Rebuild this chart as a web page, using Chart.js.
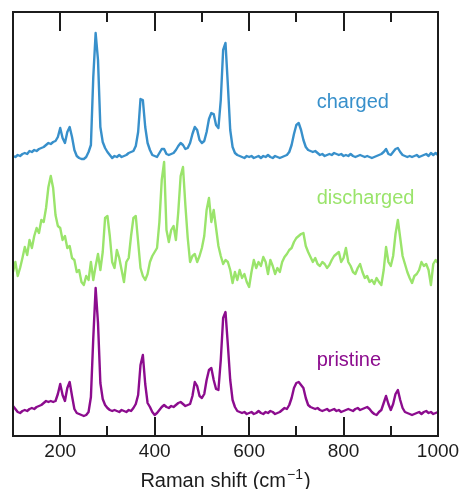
<!DOCTYPE html>
<html>
<head>
<meta charset="utf-8">
<title>Raman spectra</title>
<script src="https://cdn.jsdelivr.net/npm/chart.js@4.4.1/dist/chart.umd.min.js"></script>
<style>
  html, body { margin: 0; padding: 0; background: #ffffff; }
  #wrap { width: 462px; height: 489px; }
</style>
</head>
<body>
<div id="wrap"><canvas id="raman" width="462" height="489"></canvas></div>
<script>
// Raman shift axis (cm^-1)
const ramanShift = [
  100,105,110,115,120,125,130,135,140,145,
  150,155,160,165,170,175,180,185,190,195,
  200,205,210,215,220,225,230,235,240,245,
  250,255,260,265,270,275,280,285,290,295,
  300,305,310,315,320,325,330,335,340,345,
  350,355,360,365,370,375,380,385,390,395,
  400,405,410,415,420,425,430,435,440,445,
  450,455,460,465,470,475,480,485,490,495,
  500,505,510,515,520,525,530,535,540,545,
  550,555,560,565,570,575,580,585,590,595,
  600,605,610,615,620,625,630,635,640,645,
  650,655,660,665,670,675,680,685,690,695,
  700,705,710,715,720,725,730,735,740,745,
  750,755,760,765,770,775,780,785,790,795,
  800,805,810,815,820,825,830,835,840,845,
  850,855,860,865,870,875,880,885,890,895,
  900,905,910,915,920,925,930,935,940,945,
  950,955,960,965,970,975,980,985,990,995,
  1000
];

// Intensities (a.u.) above each trace's own baseline
const charged = [
  1,0,2,1,3,4,3,6,5,7,
  6,8,9,10,12,14,13,15,16,20,
  29,19,14,25,30,20,7,1,-1,-2,
  -2,0,5,12,80,124,97,30,15,9,
  5,2,-1,1,0,2,0,1,2,4,
  5,6,11,25,58,57,30,14,7,2,
  1,0,4,8,8,3,2,3,4,7,
  11,14,12,8,9,14,23,30,27,17,
  14,16,25,38,44,43,32,29,57,107,
  114,72,27,10,4,2,1,0,-1,1,
  0,1,-1,0,1,-1,1,0,2,0,
  -1,1,0,-1,0,1,2,5,12,23,
  32,34,27,17,10,7,6,5,6,4,
  2,3,1,2,3,2,4,3,2,3,
  1,2,1,3,1,0,1,2,1,0,
  1,0,-1,0,1,2,3,5,8,3,
  2,5,8,9,5,2,1,0,1,0,
  1,2,0,1,2,3,1,4,2,4,
  2
];

const discharged = [
  8,18,4,12,22,33,25,40,32,44,
  52,47,60,58,72,93,104,92,65,54,
  52,40,44,32,34,22,20,8,10,-2,
  -5,4,0,18,0,14,26,10,28,62,
  64,44,18,12,30,22,10,-2,18,22,
  44,62,64,38,12,4,0,6,18,24,
  28,32,58,100,118,50,38,50,54,40,
  68,104,113,75,42,18,24,26,18,24,
  32,44,70,82,58,70,52,34,24,16,
  20,18,10,-3,8,0,10,2,6,-2,
  -7,8,20,12,18,14,23,18,6,20,
  14,6,12,8,18,23,26,30,32,38,
  42,44,46,47,34,28,23,18,22,16,
  14,18,16,12,15,20,24,26,28,18,
  22,32,18,14,8,6,12,16,8,2,
  4,-2,0,-4,2,-2,-5,10,33,18,
  14,24,46,60,42,24,16,8,2,-3,
  4,6,10,18,14,16,10,-5,16,20,
  17
];

const pristine = [
  7,4,1,0,2,3,2,4,5,4,
  6,7,8,10,12,11,12,11,12,19,
  29,18,12,25,31,17,4,0,-1,-2,
  -3,-2,1,16,75,125,90,30,14,8,
  5,3,2,3,2,1,3,2,1,3,
  2,5,9,18,48,58,29,10,6,1,
  -2,0,3,6,8,6,5,7,6,8,
  10,11,9,7,8,9,17,31,27,17,
  15,19,33,43,45,33,24,23,53,95,
  101,68,33,13,6,2,1,0,1,-1,
  0,1,-1,0,2,0,-1,1,0,2,
  1,-1,0,1,3,5,4,8,15,25,
  30,31,28,25,15,8,6,5,4,5,
  3,2,3,4,2,3,4,2,3,1,
  2,3,4,3,2,4,5,3,4,5,
  6,4,1,-1,-2,1,3,10,17,9,
  3,9,19,23,13,5,1,0,-1,-2,
  -1,0,1,-1,1,2,0,1,-1,0,
  1
];

// Vertical stacking offsets so the three spectra do not overlap
const traceOffset = { charged: 279, discharged: 156, pristine: 23 };
const seriesNames = ['charged', 'discharged', 'pristine'];
const seriesData = { charged, discharged, pristine };

// Tick marks every 100 cm^-1, labelled every 200
const tickValues = [100, 200, 300, 400, 500, 600, 700, 800, 900, 1000];
const tickLabels = [200, 400, 600, 800, 1000];

const seriesColor = { charged: '#3890cb', discharged: '#9ae46b', pristine: '#8c0c8e' };
// Where each trace name is written, in data units (shift, intensity)
const nameAnchor = { charged: [743, 328], discharged: [743, 232], pristine: [743, 70] };

const FONT = '"Liberation Sans", Arial, Helvetica, sans-serif';
const INK = '#1c1c1c';

// Frame, inward tick marks, trace names and the axis title
const decorations = {
  id: 'decorations',
  afterDatasetsDraw(chart) {
    const { ctx, chartArea: a, scales } = chart;
    const xs = scales.x, ys = scales.y;
    ctx.save();
    ctx.strokeStyle = INK;
    ctx.lineWidth = 2;
    ctx.lineCap = 'butt';
    ctx.beginPath();
    tickValues.forEach(v => {
      if (v <= xs.min || v >= xs.max) return;
      const px = Math.round(xs.getPixelForValue(v));
      const len = tickLabels.includes(v) ? 19 : 10;
      ctx.moveTo(px, a.top); ctx.lineTo(px, a.top + len);
      ctx.moveTo(px, a.bottom); ctx.lineTo(px, a.bottom - len);
    });
    ctx.stroke();
    ctx.strokeRect(a.left, a.top, a.right - a.left, a.bottom - a.top);

    ctx.font = '20px ' + FONT;
    ctx.textAlign = 'left';
    ctx.textBaseline = 'alphabetic';
    seriesNames.forEach(name => {
      const [sx, sy] = nameAnchor[name];
      ctx.fillStyle = seriesColor[name];
      ctx.fillText(name, xs.getPixelForValue(sx), ys.getPixelForValue(sy));
    });

    // "Raman shift (cm^-1)"
    const main = 'Raman shift (cm', sup = '\u22121', tail = ')';
    ctx.fillStyle = INK;
    ctx.font = '20px ' + FONT;
    const w1 = ctx.measureText(main).width;
    const w3 = ctx.measureText(tail).width;
    ctx.font = '14px ' + FONT;
    const w2 = ctx.measureText(sup).width;
    const cx = (a.left + a.right) / 2;
    const base = a.bottom + 50.5;
    let x0 = cx - (w1 + w2 + w3 + 2) / 2;
    ctx.font = '20px ' + FONT;
    ctx.fillText(main, x0, base);
    ctx.font = '14px ' + FONT;
    ctx.fillText(sup, x0 + w1 + 1, base - 7.5);
    ctx.font = '20px ' + FONT;
    ctx.fillText(tail, x0 + w1 + w2 + 2, base);
    ctx.restore();
  }
};

new Chart(document.getElementById('raman').getContext('2d'), {
  type: 'line',
  data: {
    datasets: seriesNames.map(name => ({
      label: name,
      data: ramanShift.map((x, i) => ({ x, y: seriesData[name][i] + traceOffset[name] })),
      borderColor: seriesColor[name],
      borderWidth: 2.4,
      borderJoinStyle: 'round',
      pointRadius: 0,
      fill: false,
      tension: 0
    }))
  },
  options: {
    responsive: false,
    animation: false,
    devicePixelRatio: 1,
    layout: { padding: { left: 13, right: 24, top: 12, bottom: 0 } },
    plugins: { legend: { display: false }, tooltip: { enabled: false } },
    scales: {
      x: {
        type: 'linear',
        min: 100,
        max: 1000,
        afterBuildTicks: s => { s.ticks = tickValues.map(v => ({ value: v })); },
        afterFit: s => {
          s.height = 53;
          s.paddingLeft = 0; s.paddingRight = 0; s.paddingTop = 0; s.paddingBottom = 0;
        },
        grid: { display: false, drawTicks: false },
        border: { display: false },
        ticks: {
          autoSkip: false,
          maxRotation: 0,
          padding: 4,
          color: INK,
          font: { family: FONT, size: 19 },
          callback: v => tickLabels.includes(v) ? String(v) : ''
        }
      },
      y: { display: false, min: 0, max: 424 }
    }
  },
  plugins: [decorations]
});
</script>
</body>
</html>
